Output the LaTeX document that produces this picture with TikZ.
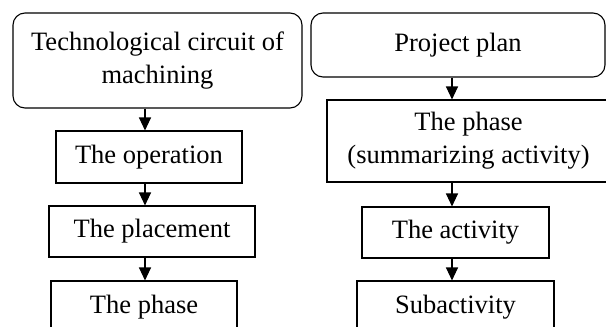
\documentclass[tikz,border=0pt]{standalone}
\usepackage{fontspec}
\setmainfont{Liberation Serif}
\usetikzlibrary{arrows.meta}
\begin{document}
\begin{tikzpicture}[x=1pt,y=-1pt,
  box/.style={draw=black, line width=1.1pt, fill=white, inner sep=0pt,
    font=\fontsize{26.5}{33}\selectfont, align=center},
  rbox/.style={box, rounded corners=12pt},
  conn/.style={line width=1.1pt, -{Triangle[width=12pt,length=13pt]}}]
\useasboundingbox (0,0) rectangle (606,327);
\clip (0,0) rectangle (606,327);
\fill[white] (0,0) rectangle (606,327);
% left column
\node[rbox, minimum width=289pt, minimum height=95pt] (tc) at (157.5,60.5) {Technological circuit of\\machining};
\node[box, minimum width=186pt, minimum height=52pt] (op) at (149,157) {The operation};
\node[box, minimum width=206pt, minimum height=51pt] (pl) at (152,231.5) {The placement};
\node[box, minimum width=186pt, minimum height=52pt] (ph1) at (144,307) {The phase};
% right column
\node[rbox, minimum width=294pt, minimum height=64pt] (pp) at (458,45) {Project plan};
\node[box, minimum width=283pt, minimum height=82pt] (ph2) at (468.5,141) {The phase\\(summarizing activity)};
\node[box, minimum width=187pt, minimum height=51pt] (act) at (455.5,232.5) {The activity};
\node[box, minimum width=197pt, minimum height=52pt] (sub) at (455.5,307) {Subactivity};
% arrow axes
\coordinate (lx) at (145,0);
\coordinate (rx) at (452,0);
\draw[conn] (tc.south -| lx) -- (op.north -| lx);
\draw[conn] (op.south -| lx) -- (pl.north -| lx);
\draw[conn] (pl.south -| lx) -- (ph1.north -| lx);
\draw[conn] (pp.south -| rx) -- (ph2.north -| rx);
\draw[conn] (ph2.south -| rx) -- (act.north -| rx);
\draw[conn] (act.south -| rx) -- (sub.north -| rx);
\end{tikzpicture}
\end{document}
